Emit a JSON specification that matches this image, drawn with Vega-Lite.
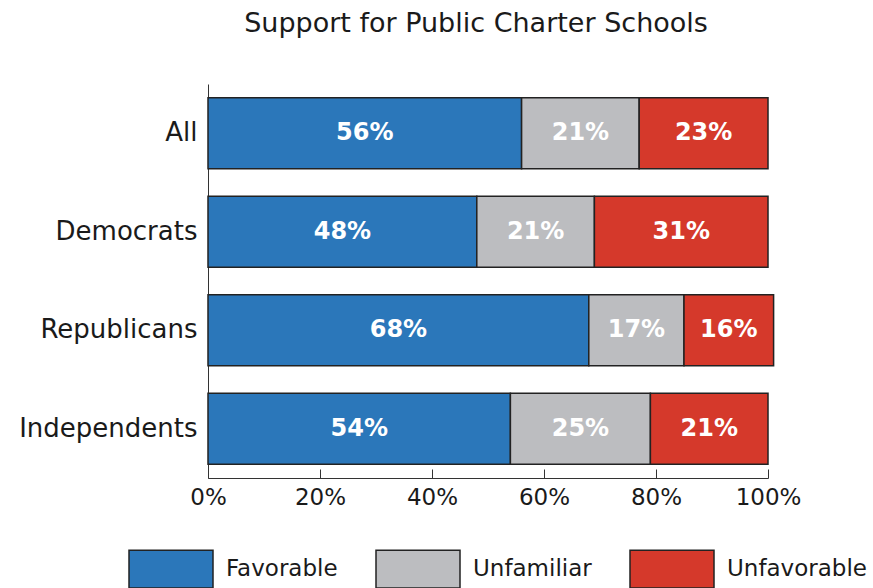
{
  "$schema": "https://vega.github.io/schema/vega-lite/v6.json",
  "autosize": {"type": "none"},
  "padding": {"left": 208, "top": 84, "right": 105, "bottom": 110},
  "width": 560,
  "height": 394,
  "title": {
    "text": "Support for Public Charter Schools",
    "font": "DejaVu Sans",
    "fontSize": 27,
    "fontWeight": "normal",
    "color": "#1a1a1a",
    "anchor": "middle",
    "dx": -12,
    "offset": 46
  },
  "config": {
    "view": {"stroke": null},
    "font": "DejaVu Sans"
  },
  "data": {
    "values": [
      {"group": "All", "response": "Favorable", "k": 1, "value": 56, "label": "56%"},
      {"group": "All", "response": "Unfamiliar", "k": 2, "value": 21, "label": "21%"},
      {"group": "All", "response": "Unfavorable", "k": 3, "value": 23, "label": "23%"},
      {"group": "Democrats", "response": "Favorable", "k": 1, "value": 48, "label": "48%"},
      {"group": "Democrats", "response": "Unfamiliar", "k": 2, "value": 21, "label": "21%"},
      {"group": "Democrats", "response": "Unfavorable", "k": 3, "value": 31, "label": "31%"},
      {"group": "Republicans", "response": "Favorable", "k": 1, "value": 68, "label": "68%"},
      {"group": "Republicans", "response": "Unfamiliar", "k": 2, "value": 17, "label": "17%"},
      {"group": "Republicans", "response": "Unfavorable", "k": 3, "value": 16, "label": "16%"},
      {"group": "Independents", "response": "Favorable", "k": 1, "value": 54, "label": "54%"},
      {"group": "Independents", "response": "Unfamiliar", "k": 2, "value": 25, "label": "25%"},
      {"group": "Independents", "response": "Unfavorable", "k": 3, "value": 21, "label": "21%"}
    ]
  },
  "encoding": {
    "y": {
      "field": "group",
      "type": "nominal",
      "sort": ["All", "Democrats", "Republicans", "Independents"],
      "scale": {"paddingInner": 0.28, "paddingOuter": 0.14},
      "axis": {
        "title": null,
        "ticks": false,
        "domain": true,
        "domainColor": "#333333",
        "domainWidth": 1,
        "labelFont": "DejaVu Sans",
        "labelFontSize": 26,
        "labelColor": "#1a1a1a",
        "labelPadding": 11
      }
    }
  },
  "layer": [
    {
      "mark": {"type": "bar", "stroke": "#222222", "strokeWidth": 1.5},
      "encoding": {
        "x": {
          "field": "value",
          "type": "quantitative",
          "stack": "zero",
          "scale": {"domain": [0, 100], "nice": false},
          "axis": {
            "title": null,
            "values": [0, 20, 40, 60, 80, 100],
            "labelExpr": "datum.value + '%'",
            "grid": false,
            "domainColor": "#333333",
            "tickColor": "#333333",
            "tickSize": -9,
            "labelFont": "DejaVu Sans",
            "labelFontSize": 23,
            "labelColor": "#1a1a1a",
            "labelPadding": 17,
            "labelFlush": false
          }
        },
        "order": {"field": "k", "type": "quantitative"},
        "color": {
          "field": "response",
          "type": "nominal",
          "sort": ["Favorable", "Unfamiliar", "Unfavorable"],
          "scale": {
            "domain": ["Favorable", "Unfamiliar", "Unfavorable"],
            "range": ["#2b77ba", "#bcbdc0", "#d5392b"]
          },
          "legend": {
            "title": null,
            "orient": "none",
            "legendX": -80,
            "legendY": 442,
            "direction": "horizontal",
            "columns": 3,
            "columnPadding": 35,
            "symbolType": "M-1,-0.45H1V0.45H-1Z",
            "symbolSize": 7056,
            "symbolStrokeColor": "#222222",
            "symbolStrokeWidth": 1.5,
            "symbolOpacity": 1,
            "labelFont": "DejaVu Sans",
            "labelFontSize": 23,
            "labelColor": "#1a1a1a",
            "labelOffset": 12,
            "labelLimit": 300
          }
        }
      }
    },
    {
      "mark": {
        "type": "text",
        "color": "white",
        "font": "DejaVu Sans",
        "fontSize": 24,
        "fontWeight": "bold"
      },
      "encoding": {
        "x": {
          "field": "value",
          "type": "quantitative",
          "stack": "zero",
          "bandPosition": 0.5
        },
        "order": {"field": "k", "type": "quantitative"},
        "text": {"field": "label", "type": "nominal"},
        "detail": {"field": "response", "type": "nominal"}
      }
    }
  ]
}
